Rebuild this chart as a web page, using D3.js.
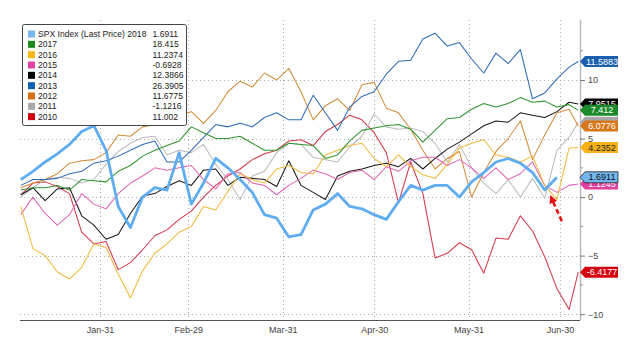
<!DOCTYPE html>
<html><head><meta charset="utf-8">
<script src="https://cdn.jsdelivr.net/npm/d3@7"></script>
<style>
body{margin:0;background:#fff;}
svg{display:block;font-family:"Liberation Sans",Arial,sans-serif;}
</style></head><body>
<svg id="chart" width="628" height="340"></svg>
<script>
// ---- data ----
const dates = [
"2016-01-05","2016-01-09","2016-01-13","2016-01-17","2016-01-21","2016-01-25","2016-01-29",
"2016-02-02","2016-02-06","2016-02-10","2016-02-14","2016-02-18","2016-02-22","2016-02-26",
"2016-03-01","2016-03-05","2016-03-09","2016-03-13","2016-03-17","2016-03-21","2016-03-25","2016-03-29",
"2016-04-02","2016-04-06","2016-04-10","2016-04-14","2016-04-18","2016-04-22","2016-04-26","2016-04-30",
"2016-05-04","2016-05-08","2016-05-12","2016-05-16","2016-05-20","2016-05-24","2016-05-28",
"2016-06-01","2016-06-05","2016-06-09","2016-06-13","2016-06-17","2016-06-21","2016-06-25","2016-06-29",
"2016-07-03","2016-07-06"];
const xTickDates = ["2016-01-31","2016-02-29","2016-03-31","2016-04-30","2016-05-31","2016-06-30"];
const yTicks = [-10,-5,0,5,10];
const seriesNames = ["SPX Index (Last Price) 2018","2017","2016","2015","2014","2013","2012","2011","2010"];
const legendValues = ["1.6911","18.415","11.2374","-0.6928","12.3866","26.3905","11.6775","-1.1216","11.002"];
const tagValues = [1.6911, 7.412, 4.2352, 1.1245, 7.9515, 11.5883, 6.0776, null, -6.4177];

const s2018 = [1.5,2.2,3.0,3.7,4.5,5.6,6.1,4.0,-0.8,-2.6,0.0,0.8,0.6,3.8,-0.6,1.2,3.3,2.5,1.5,0.4,-1.5,-1.8,-3.4,-3.2,-1.1,-0.6,0.3,-0.8,-1.0,-1.5,-1.9,-0.4,1.0,0.6,1.0,1.0,0.0,1.3,2.1,3.0,3.3,2.9,2.1,0.6,1.6911];
const s2017 = [0.6,0.8,0.8,1.0,0.6,1.5,1.4,1.3,2.2,2.7,3.5,4.0,4.4,4.8,6.0,5.5,5.0,5.0,5.2,4.6,4.0,4.0,4.6,4.5,4.4,3.3,3.6,4.8,5.7,5.9,6.1,6.2,5.8,4.7,5.7,6.7,6.8,7.5,8.0,7.7,8.0,8.5,8.1,8.2,7.7,7.9,7.412];
const s2016 = [-0.8,-4.4,-5.0,-6.4,-7.0,-6.0,-4.0,-4.3,-6.6,-8.6,-6.3,-4.8,-4.0,-3.0,-2.5,-0.8,-1.1,0.5,2.0,1.5,1.2,2.4,2.7,2.1,2.0,3.6,4.0,4.4,4.6,3.3,2.6,3.6,2.6,1.9,1.6,2.8,4.2,4.6,4.9,3.6,3.4,3.0,3.5,1.0,-0.2,4.2,4.2352];
const s2015 = [-1.5,0.0,-1.4,-2.4,-1.5,0.3,-0.6,-1.0,0.3,1.2,1.8,2.5,2.3,2.5,2.7,1.5,0.7,2.0,2.1,1.2,1.0,0.2,1.0,1.6,2.3,2.0,1.5,2.1,2.3,1.5,2.6,2.2,3.1,3.4,3.4,2.7,3.2,2.5,1.6,2.5,1.5,2.0,3.0,1.0,0.4,1.0,1.1245];
const s2014 = [0.2,0.8,-0.3,0.7,0.8,-1.6,-2.4,-3.6,-3.2,-1.4,0.1,0.3,0.9,1.4,1.0,2.3,2.4,1.0,1.7,1.6,1.5,0.9,3.1,1.0,0.4,-0.2,1.8,2.2,2.4,2.7,2.9,2.6,3.3,2.4,3.3,4.1,4.7,5.4,6.1,6.5,6.4,7.2,7.0,6.8,7.3,8.1,7.9515];
const s2013 = [1.0,1.5,1.5,1.6,2.0,2.2,2.9,3.1,3.5,4.0,4.5,4.8,3.0,3.0,4.0,5.1,6.2,6.0,6.3,6.0,6.8,7.2,6.6,6.6,8.7,7.2,5.7,7.7,8.6,9.0,10.5,11.6,11.7,13.5,14.0,12.9,13.2,11.8,10.6,12.3,11.4,12.6,8.4,8.9,10.1,11.1,11.5883];
const s2012 = [0.8,1.2,1.5,2.0,2.9,3.1,3.2,3.8,5.3,5.2,6.0,6.2,6.6,7.0,7.3,6.3,7.4,9.0,9.9,9.4,10.6,10.0,11.0,9.0,6.6,7.8,8.4,7.4,9.6,9.8,7.6,7.2,5.8,4.0,2.4,3.3,3.9,0.0,2.1,3.9,5.0,6.5,3.2,5.3,7.2,7.5,6.0776];
const s2011 = [0.0,0.8,1.5,1.7,1.6,1.2,1.5,2.8,3.9,4.6,5.1,5.2,3.6,4.0,3.8,4.5,2.8,1.5,-0.2,1.8,2.2,3.8,4.6,4.5,3.4,3.2,3.0,4.3,5.2,7.1,6.0,5.8,5.9,5.6,4.6,3.0,4.5,2.5,1.2,0.3,1.5,0.0,1.6,-0.1,4.0,5.1,6.4];
const s2010 = [0.2,1.2,1.3,0.9,0.3,-3.0,-4.0,-3.8,-6.2,-5.6,-4.5,-3.3,-2.8,-1.9,-1.2,0.0,1.0,1.8,2.4,3.2,3.7,4.0,4.8,4.9,4.4,5.6,6.2,7.0,6.6,5.5,3.8,-0.5,3.0,0.3,-5.2,-4.8,-3.9,-4.5,-6.5,-3.5,-3.6,-1.6,-2.9,-5.1,-7.8,-9.6,-6.4177];
const seriesValues = [s2018,s2017,s2016,s2015,s2014,s2013,s2012,s2011,s2010];

// ---- styles ----
const swatchColors = ["#7ab8f0","#1a8a1a","#f8b818","#e040a0","#000000","#1060b8","#d87010","#a8a8a8","#d00010"];
const lineColors   = ["#5fadf0","#2f962f","#f2b93c","#e065b4","#1a1a1a","#2e6cb8","#d28c3c","#bdbdbd","#d2384a"];
const tagFill      = ["#72b6ee","#1a8a2a","#f7b21a","#e0409c","#000000","#1a5fb0","#d8761a","#a8a8a8","#d40010"];
const tagText      = ["#111","#fff","#222","#fff","#fff","#fff","#fff","#fff","#fff"];

const W = 628, H = 340;
const mLeft = 20, mRight = 580, mTop = 20, mBottom = 320;
const parse = d3.utcParse("%Y-%m-%d");
const dt = dates.map(parse);

const x = d3.scaleUtc()
  .domain([Date.UTC(2016,0,4,18), Date.UTC(2016,6,6,14)])
  .range([mLeft, mRight]);
const y = d3.scaleLinear().domain([-10.5, 15.13]).range([mBottom, mTop]);

const svg = d3.select("#chart");
svg.append("rect").attr("width",W).attr("height",H).attr("fill","#fff");

// grid
const grid = svg.append("g").attr("stroke","#aaa").attr("stroke-width",1).attr("stroke-dasharray","1,3");
grid.selectAll("line.h").data(yTicks).join("line")
  .attr("x1",mLeft).attr("x2",mRight).attr("y1",d=>Math.round(y(d))+0.5).attr("y2",d=>Math.round(y(d))+0.5);
grid.selectAll("line.v").data(xTickDates.map(parse)).join("line")
  .attr("x1",d=>Math.round(x(d))+0.5).attr("x2",d=>Math.round(x(d))+0.5).attr("y1",mTop).attr("y2",mBottom);

// lines
const line = d3.line().x((d,i)=>x(dt[i])).y(d=>y(d));
const order = [8,7,6,5,4,3,2,1,0];
svg.append("g").selectAll("path").data(order).join("path")
  .attr("fill","none")
  .attr("stroke",i=>lineColors[i])
  .attr("stroke-width",i=>i===0?2.8:1.05)
  .attr("stroke-linejoin","round")
  .attr("d",i=>line(seriesValues[i]));

// bottom axis
const xa = svg.append("g").attr("transform",`translate(0,${mBottom})`)
  .call(d3.axisBottom(x).tickValues(xTickDates.map(parse)).tickFormat(d3.utcFormat("%b-%d")).tickSize(0).tickPadding(7));
xa.select(".domain").attr("stroke","#555").attr("d",`M${mLeft},0.5H${mRight}`);
xa.selectAll("text").attr("fill","#444").style("font-size","9px");

// right axis
const ya = svg.append("g").attr("transform",`translate(${mRight},0)`)
  .call(d3.axisRight(y).tickValues(yTicks).tickSize(5).tickPadding(3));
ya.select(".domain").attr("stroke","#bbb").attr("stroke-width",1.5).attr("d",`M0.5,${mTop}V${mBottom}`);
ya.selectAll(".tick line").attr("stroke","#777");
ya.selectAll("text").attr("fill","#444").style("font-size","9px");
// minor ticks
svg.append("g").selectAll("line").data([-7.5,-2.5,2.5,7.5,12.5]).join("line")
  .attr("x1",mRight).attr("x2",mRight+3).attr("y1",d=>y(d)).attr("y2",d=>y(d)).attr("stroke","#999");

// annotation arrow
const tipX = x(parse("2016-06-27")), tipY = y(0);
const defs = svg.append("defs");
defs.append("marker").attr("id","ah").attr("viewBox","0 0 10 10").attr("refX",2).attr("refY",5)
  .attr("markerWidth",3.2).attr("markerHeight",3.2).attr("orient","auto-start-reverse")
  .append("path").attr("d","M0,0L10,5L0,10Z").attr("fill","#e81010");
svg.append("path")
  .attr("d",`M${tipX+11},${tipY+24}L${tipX+2},${tipY+4}`)
  .attr("stroke","#e81010").attr("stroke-width",2.6).attr("stroke-dasharray","5,3")
  .attr("fill","none").attr("marker-end","url(#ah)");

// end tags
const tagOrder = [5,4,7,1,6,2,3,0,8];
const tags = svg.append("g").selectAll("g").data(tagOrder).join("g")
  .attr("transform",i=>{
    const v = tagValues[i]!=null ? tagValues[i] : seriesValues[i][seriesValues[i].length-1];
    return `translate(${mRight},${y(v)})`;
  });
tags.append("path").attr("d","M0,0L5,-5.5H38V5.5H5Z")
  .attr("fill",i=>tagFill[i])
  .attr("stroke",i=>i===0?"#222":"none").attr("stroke-width",0.8);
tags.filter(i=>tagValues[i]!=null).append("text")
  .attr("x",22).attr("dy","0.35em").attr("text-anchor","middle")
  .attr("fill",i=>tagText[i]).style("font-size","9px")
  .text(i=>tagValues[i]);

// legend
const lg = svg.append("g").attr("transform","translate(22.5,24.5)");
lg.append("rect").attr("width",164).attr("height",101).attr("rx",2)
  .attr("fill","#fff").attr("stroke","#444").attr("stroke-width",1);
const rows = lg.selectAll("g.row").data(seriesNames).join("g")
  .attr("transform",(d,i)=>`translate(0,${9.5+i*10.33})`);
rows.append("rect").attr("x",5.5).attr("y",-3.5).attr("width",7).attr("height",7)
  .attr("fill",(d,i)=>swatchColors[i]);
rows.append("text").attr("x",15.5).attr("dy","0.35em").attr("fill","#222").style("font-size","8.6px").text(d=>d);
rows.append("text").attr("x",130).attr("dy","0.35em").attr("fill","#222").style("font-size","8.6px").text((d,i)=>legendValues[i]);
</script>
</body></html>
